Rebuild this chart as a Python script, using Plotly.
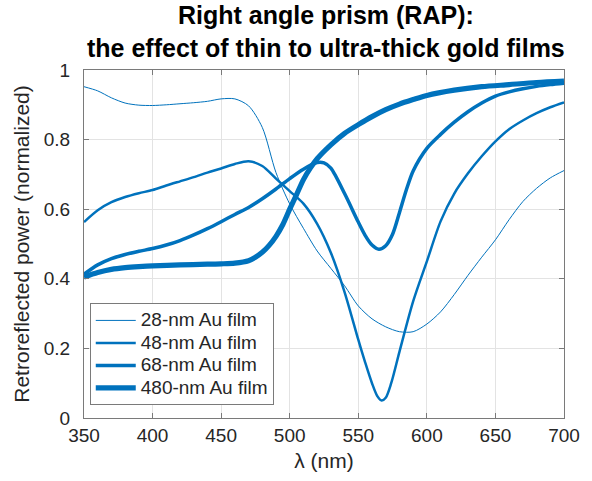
import plotly.graph_objects as go

# Wavelength grids (nm) and normalized retroreflected power for each gold film thickness
wl_28 = [350, 360, 370, 380, 390, 400, 410, 420, 430, 440, 450, 460, 470, 480, 490,
         500, 510, 520, 530, 540, 550, 560, 570, 580, 590, 600, 610, 620, 630, 640,
         650, 660, 670, 680, 690, 700]
p_28 = [0.952, 0.940, 0.920, 0.905, 0.899, 0.898, 0.900, 0.903, 0.906, 0.910, 0.917,
        0.917, 0.897, 0.835, 0.705, 0.615, 0.545, 0.480, 0.430, 0.380, 0.322, 0.285,
        0.262, 0.248, 0.248, 0.270, 0.305, 0.355, 0.410, 0.462, 0.512, 0.570, 0.622,
        0.660, 0.690, 0.711]

wl_48 = [350, 360, 370, 380, 390, 400, 410, 420, 430, 440, 450, 460, 470, 480, 490,
         500, 510, 520, 530, 540, 550, 555, 560, 564, 567, 570, 574, 580, 590, 600,
         610, 620, 630, 640, 650, 660, 670, 680, 690, 700]
p_48 = [0.563, 0.597, 0.620, 0.635, 0.646, 0.655, 0.668, 0.680, 0.692, 0.705, 0.717,
        0.730, 0.738, 0.724, 0.688, 0.652, 0.616, 0.558, 0.475, 0.362, 0.225, 0.160,
        0.100, 0.062, 0.050, 0.058, 0.100, 0.190, 0.335, 0.450, 0.565, 0.645, 0.703,
        0.752, 0.795, 0.830, 0.855, 0.876, 0.893, 0.907]

wl_68 = [350, 360, 370, 380, 390, 400, 410, 420, 430, 440, 450, 460, 470, 480, 490,
         500, 510, 520, 525, 530, 540, 550, 555, 560, 565, 570, 575, 580, 585, 590,
         600, 610, 620, 630, 640, 650, 660, 670, 680, 690, 700]
p_68 = [0.413, 0.440, 0.458, 0.470, 0.479, 0.487, 0.497, 0.510, 0.526, 0.544, 0.564,
        0.585, 0.605, 0.630, 0.658, 0.688, 0.715, 0.734, 0.733, 0.718, 0.645, 0.563,
        0.525, 0.497, 0.485, 0.495, 0.528, 0.590, 0.655, 0.710, 0.775, 0.815, 0.850,
        0.880, 0.905, 0.925, 0.937, 0.946, 0.953, 0.958, 0.962]

wl_480 = [350, 360, 370, 380, 390, 400, 420, 440, 450, 460, 470, 475, 480, 485, 490,
          495, 500, 505, 510, 515, 520, 530, 540, 550, 560, 570, 580, 590, 600, 620,
          640, 660, 680, 700]
p_480 = [0.405, 0.418, 0.427, 0.432, 0.435, 0.437, 0.440, 0.442, 0.443, 0.445, 0.452,
         0.462, 0.476, 0.496, 0.522, 0.556, 0.600, 0.642, 0.685, 0.718, 0.745, 0.785,
         0.818, 0.843, 0.866, 0.886, 0.902, 0.915, 0.927, 0.942, 0.952, 0.958, 0.964,
         0.968]

series = [
    ("28-nm Au film", wl_28, p_28, 1.0),
    ("48-nm Au film", wl_48, p_48, 2.5),
    ("68-nm Au film", wl_68, p_68, 3.5),
    ("480-nm Au film", wl_480, p_480, 5.2),
]

BLUE = "#0072BD"
FONT = "Liberation Sans, Arial, Helvetica, sans-serif"
TXT = "#262626"

fig = go.Figure()
for name, x, y, w in series:
    fig.add_trace(go.Scatter(
        x=x, y=y, mode="lines",
        # larger glyphs than the legend row height so the entries stay compact
        name=f'<span style="font-size:19px">{name}</span>',
        line=dict(color=BLUE, width=w, shape="spline", smoothing=0.8),
    ))

axis_common = dict(
    showline=True, linecolor="#7a7a7a", linewidth=1, mirror="ticks",
    ticks="inside", ticklen=5, tickcolor="#7a7a7a",
    showgrid=True, gridcolor="#e3e3e3", gridwidth=1,
    zeroline=False,
    tickfont=dict(family=FONT, size=19, color=TXT),
)

fig.update_layout(
    width=592, height=481,
    margin=dict(l=84, r=20, t=70, b=63),
    paper_bgcolor="white", plot_bgcolor="white",
    font=dict(family=FONT, color=TXT),
    xaxis=dict(
        range=[350, 700], dtick=50, tick0=350,
        title=dict(text="λ (nm)", font=dict(family=FONT, size=21, color=TXT), standoff=8),
        **axis_common,
    ),
    yaxis=dict(
        range=[0, 1], dtick=0.2, tick0=0, ticklabelstandoff=9,
        title=dict(text="Retroreflected power (normalized)",
                   font=dict(family=FONT, size=21, color=TXT), standoff=8),
        **axis_common,
    ),
    legend=dict(
        x=0.012, y=0.33, xanchor="left", yanchor="top",
        bgcolor="white", bordercolor="#7a7a7a", borderwidth=1,
        font=dict(family=FONT, size=15, color=TXT),
        tracegroupgap=0, itemwidth=40,
    ),
    showlegend=True,
)

# Two-line bold title centred over the axes
fig.add_annotation(
    text="<b>Right angle prism (RAP):<br>the effect of thin to ultra-thick gold films</b>",
    xref="paper", yref="paper", x=0.505, y=1, xanchor="center", yanchor="bottom",
    yshift=6, showarrow=False, align="center",
    font=dict(family=FONT, size=25, color="black"),
)

fig.write_html("out.html")
